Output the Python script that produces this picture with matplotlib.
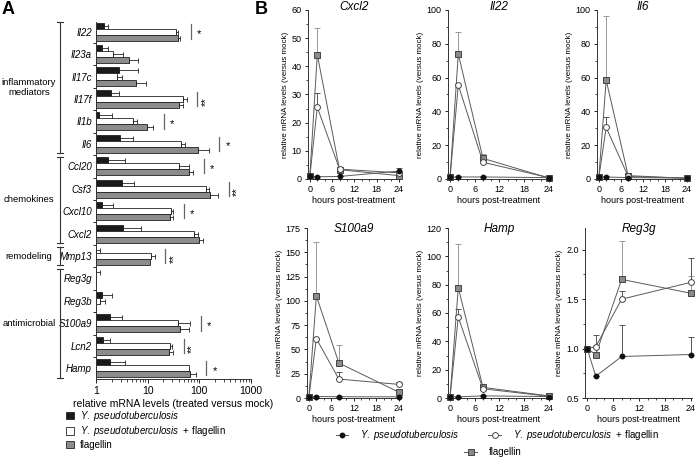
import matplotlib
matplotlib.use('Agg')
import matplotlib.pyplot as plt
import matplotlib.transforms as mtransforms
import numpy as np
from matplotlib.lines import Line2D
from matplotlib.patches import Patch
from matplotlib.ticker import MultipleLocator, LogLocator, NullFormatter, FixedLocator

plt.rcParams['font.family'] = ['Liberation Sans', 'DejaVu Sans']
plt.rcParams['mathtext.fontset'] = 'custom'
plt.rcParams['mathtext.it'] = 'Liberation Sans:italic'
plt.rcParams['mathtext.rm'] = 'Liberation Sans'

# ---- painel A: niveis relativos (escala log) ----
genes = ['Il22', 'Il23a', 'Il17c', 'Il17f', 'Il1b', 'Il6', 'Ccl20', 'Csf3', 'Cxcl10',
         'Cxcl2', 'Mmp13', 'Reg3g', 'Reg3b', 'S100a9', 'Lcn2', 'Hamp']
yp_mean = [1.43, 1.33, 2.8, 1.92, 1.13, 2.9, 1.73, 3.2, 1.3, 3.4, 1.0, 1.0, 1.3, 1.86, 1.38, 1.86]
yp_top = [1.73, 1.73, 6.6, 2.8, 2.07, 5.1, 3.6, 5.5, 2.15, 7.4, 1.2, 1.2, 2.0, 3.25, 1.9, 3.6]
ypf_mean = [34.7, 2.17, 2.5, 49, 5.1, 44, 41, 133, 28.5, 80, 11.7, 1.0, 1.2, 38, 26.5, 64]
ypf_top = [38, 3.4, 3.2, 57, 6.3, 53, 64, 154, 31.5, 93, 13.8, 1.0, 1.5, 67, 30, 64]
fla_mean = [38, 4.4, 5.9, 41, 9.6, 93, 64, 161, 27, 100, 11.2, 1.0, 1.0, 42, 25.7, 66]
fla_top = [43, 6.6, 9.1, 49, 12.9, 153, 76, 233, 30.6, 116, 11.2, 1.0, 1.0, 62, 31.5, 86]
signif = ['*', '', '', '**', '*', '*', '*', '**', '*', '', '**', '', '', '*', '**', '*']
grupos = ['inflammatory\nmediators', 'chemokines', 'remodeling', 'antimicrobial']
grupo_ini = [0, 6, 10, 11]
grupo_fim = [5, 9, 10, 15]

# ---- painel B: curso temporal ----
horas = [0, 2, 8, 24]
genes_b = ['Cxcl2', 'Il22', 'Il6', 'S100a9', 'Hamp', 'Reg3g']
yp_t = [[1.0, 0.8, 0.9, 2.8], [1.0, 1.2, 1.2, 0.8], [1.0, 1.2, 0.8, 0.6],
        [1.0, 1.5, 1.3, 1.2], [1.0, 0.8, 1.5, 1.0], [1.0, 0.72, 0.92, 0.94]]
yp_t_err = [[0.2, 0.2, 0.2, 1.0], [0.2, 0.3, 0.3, 0.2], [0.2, 0.3, 0.2, 0.1],
            [0.3, 0.5, 0.4, 0.3], [0.2, 0.2, 0.4, 0.2], [0.0, 0.0, 0.32, 0.18]]
ypf_t = [[1.0, 25.5, 3.5, 2.2], [1.0, 55.6, 9.9, 0.8], [1.0, 30.5, 1.5, 0.5],
         [1.0, 61, 19.5, 14], [1.0, 57, 6.5, 1.2], [1.0, 1.02, 1.5, 1.67]]
ypf_t_err = [[0.0, 5.0, 0.5, 0.6], [0.0, 0.0, 1.5, 0.2], [0.0, 6.1, 0.3, 0.1],
             [0.0, 0.0, 7.0, 2.0], [0.0, 6.0, 1.0, 0.2], [0.0, 0.12, 0.08, 0.25]]
fla_t = [[1.0, 44.2, 3.3, 1.2], [1.0, 74, 12.2, 0.6], [1.0, 58.5, 2.0, 0.4],
         [1.0, 105, 36, 6], [1.0, 78, 7.5, 1.5], [1.0, 0.94, 1.70, 1.56]]
fla_t_err = [[0.0, 9.3, 0.8, 0.4], [0.0, 13, 2.4, 0.2], [0.0, 38, 0.5, 0.1],
             [0.0, 56, 19, 2.0], [0.0, 31, 2.0, 0.3], [0.0, 0.1, 0.39, 0.17]]
ylim_b = [(0, 60), (0, 100), (0, 100), (0, 175), (0, 120), (0.5, 2.22)]
ypasso_b = [10, 20, 20, 25, 20, 0.5]

W, H = 696, 463
fig = plt.figure(figsize=(W / 100, H / 100), dpi=100)


def eixo_px(x0, y0, x1, y1):
    return fig.add_axes([x0 / W, 1 - y1 / H, (x1 - x0) / W, (y1 - y0) / H])


# ================= painel A =================
axA = eixo_px(96, 22, 251, 379)
axA.set_xscale('log')
pos = np.arange(len(genes))
h = 0.27
series_a = [(-h, yp_mean, yp_top, '#1a1a1a'),
            (0, ypf_mean, ypf_top, 'white'),
            (h, fla_mean, fla_top, '#8c8c8c')]
for off, medias, topos, cor in series_a:
    m = np.array(medias, dtype=float)
    t = np.array(topos, dtype=float)
    axA.barh(pos + off, m - 1, left=1, height=h, color=cor, edgecolor='#222', linewidth=0.6)
    ok = t > m
    axA.errorbar(m[ok], (pos + off)[ok], xerr=[np.zeros(ok.sum()), (t - m)[ok]], fmt='none',
                 ecolor='#222', elinewidth=0.6, capsize=1.8, capthick=0.6)

for i, s in enumerate(signif):
    if not s:
        continue
    xl = max(yp_top[i], ypf_top[i], fla_top[i]) * 1.6
    axA.plot([xl, xl], [i - 0.32, i + 0.32], color='#666', lw=0.9, clip_on=False)
    axA.text(xl * 1.45, i + 0.12, s, rotation=90 if len(s) > 1 else 0,
             ha='center', va='center', fontsize=8, clip_on=False)

axA.set_xlim(1, 1000)
axA.set_ylim(15.48, -0.43)
axA.set_yticks(pos)
axA.set_yticklabels(genes, fontstyle='italic', fontsize=7)
axA.yaxis.set_minor_locator(FixedLocator(pos[:-1] + 0.5))
axA.tick_params(axis='y', which='major', length=0, pad=3)
axA.tick_params(axis='y', which='minor', length=2, width=0.6)
axA.set_xticks([1, 10, 100, 1000])
axA.set_xticklabels(['1', '10', '100', '1000'])
axA.xaxis.set_minor_locator(LogLocator(base=10, subs=np.arange(2, 10)))
axA.xaxis.set_minor_formatter(NullFormatter())
axA.tick_params(axis='x', which='major', labelsize=7.5, length=3, width=0.6, pad=2)
axA.tick_params(axis='x', which='minor', length=1.8, width=0.5)
axA.set_xlabel('relative mRNA levels (treated versus mock)', fontsize=7.5, labelpad=2)
for lado in ['top', 'right']:
    axA.spines[lado].set_visible(False)
for lado in ['left', 'bottom']:
    axA.spines[lado].set_linewidth(0.7)
    axA.spines[lado].set_color('#333')

trans = mtransforms.blended_transform_factory(axA.transAxes, axA.transData)
bx = (60 - 96) / 155
for nome, a, b in zip(grupos, grupo_ini, grupo_fim):
    y0, y1 = a - 0.42, b + 0.42
    axA.plot([bx, bx], [y0, y1], transform=trans, color='#333', lw=0.8, clip_on=False)
    for yy in (y0, y1):
        axA.plot([bx - 0.018, bx + 0.018], [yy, yy], transform=trans, color='#333', lw=0.8, clip_on=False)
    axA.text((29 - 96) / 155, (a + b) / 2, nome, transform=trans, ha='center', va='center',
             fontsize=6.8, linespacing=1.1)

fig.text(2 / W, 1 - 10 / H, 'A', fontsize=13, fontweight='bold', va='center')
fig.text(255 / W, 1 - 10 / H, 'B', fontsize=13, fontweight='bold', va='center')

handles_a = [Patch(facecolor='#1a1a1a', edgecolor='#222', linewidth=0.6),
             Patch(facecolor='white', edgecolor='#222', linewidth=0.6),
             Patch(facecolor='#8c8c8c', edgecolor='#222', linewidth=0.6)]
labels_a = [r'$\mathit{Y.\ pseudotuberculosis}$',
            r'$\mathit{Y.\ pseudotuberculosis}$  + flagellin',
            'flagellin']
fig.legend(handles_a, labels_a, loc='upper left', bbox_to_anchor=(66 / W, 1 - 409 / H),
           frameon=False, fontsize=7, handlelength=0.8, handleheight=0.8,
           handletextpad=0.6, labelspacing=0.15, borderpad=0, borderaxespad=0)

# ================= painel B =================
caixas = [(308, 10, 400, 179), (448, 10, 550, 179), (597, 10, 688, 179),
          (307, 228, 400, 398), (448, 228, 550, 398), (585, 228, 692, 398)]
estilo_yp = dict(marker='o', ms=3.2, mfc='#111', mec='#111')
estilo_ypf = dict(marker='o', ms=4.2, mfc='white', mec='#444', mew=0.7)
estilo_fla = dict(marker='s', ms=4.2, mfc='#8a8a8a', mec='#444', mew=0.7)

for k, gene in enumerate(genes_b):
    ax = eixo_px(*caixas[k])
    zeros = np.zeros(len(horas))
    for vals, errs, est, ecor, z in [(fla_t[k], fla_t_err[k], estilo_fla, '#999', 2),
                                    (ypf_t[k], ypf_t_err[k], estilo_ypf, '#555', 3),
                                    (yp_t[k], yp_t_err[k], estilo_yp, '#555', 4)]:
        ax.errorbar(horas, vals, yerr=[zeros, errs], color='#5a5a5a', lw=0.7, ecolor=ecor,
                    elinewidth=0.7, capsize=2, capthick=0.7, zorder=z, clip_on=False, **est)
    ax.set_xlim(-0.5, 24.3)
    ax.set_ylim(*ylim_b[k])
    ax.set_xticks([0, 6, 12, 18, 24])
    ax.xaxis.set_minor_locator(MultipleLocator(2))
    ax.yaxis.set_major_locator(MultipleLocator(ypasso_b[k]))
    ax.yaxis.set_minor_locator(MultipleLocator(ypasso_b[k] / 2))
    ax.tick_params(which='major', labelsize=6.5, length=2.5, width=0.6, pad=2)
    ax.tick_params(which='minor', length=1.5, width=0.5)
    for lado in ['top', 'right']:
        ax.spines[lado].set_visible(False)
    for lado in ['left', 'bottom']:
        ax.spines[lado].set_linewidth(0.7)
        ax.spines[lado].set_color('#333')
    ax.set_ylabel('relative mRNA levels (versus mock)', fontsize=5.8, labelpad=2)
    ax.set_xlabel('hours post-treatment', fontsize=6.5, labelpad=1)
    ax.text(0.5, 1.02 if k < 3 else 0.995, gene, transform=ax.transAxes, ha='center',
            va='center', fontsize=8.5, fontstyle='italic')

h_yp = Line2D([], [], color='#5a5a5a', lw=0.7, **estilo_yp)
h_ypf = Line2D([], [], color='#5a5a5a', lw=0.7, **estilo_ypf)
h_fla = Line2D([], [], color='#5a5a5a', lw=0.7, **estilo_fla)
fig.legend([h_yp, h_ypf], [r'$\mathit{Y.\ pseudotuberculosis}$',
                           r'$\mathit{Y.\ pseudotuberculosis}$  + flagellin'],
           loc='center', bbox_to_anchor=(497 / W, 1 - 435 / H), ncol=2, frameon=False,
           fontsize=7, handlelength=1.3, handletextpad=1.2, columnspacing=3.0,
           borderpad=0, borderaxespad=0)
fig.legend([h_fla], ['flagellin'], loc='center', bbox_to_anchor=(493 / W, 1 - 452 / H),
           frameon=False, fontsize=7, handlelength=1.3, handletextpad=1.2,
           borderpad=0, borderaxespad=0)

fig.savefig('out.png', dpi=100)
